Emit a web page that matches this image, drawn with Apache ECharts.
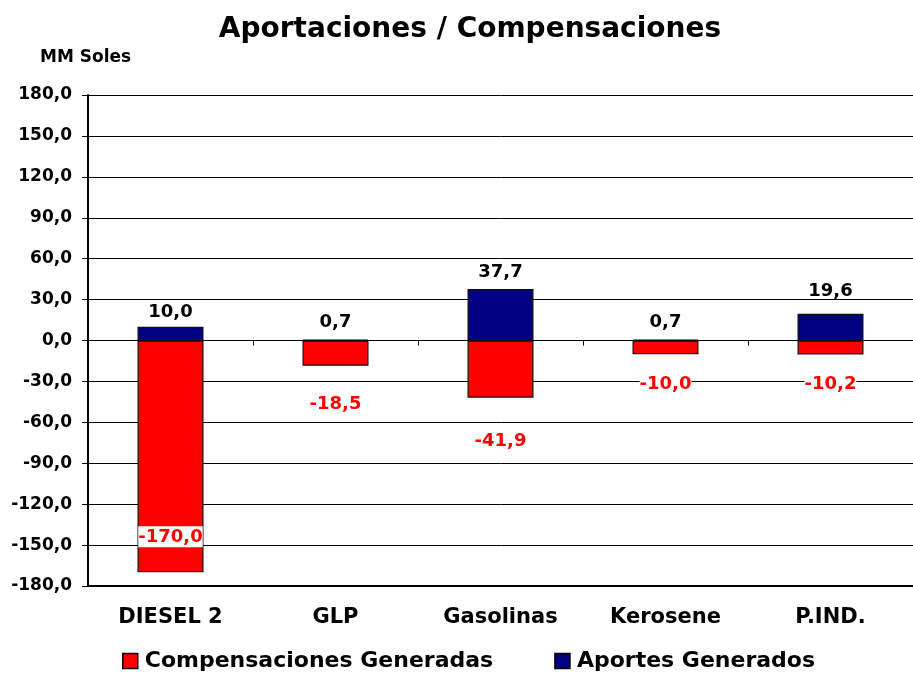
<!DOCTYPE html>
<html><head><meta charset="utf-8">
<script src="https://cdn.jsdelivr.net/npm/echarts@6/dist/echarts.min.js"></script>
<style>html,body{margin:0;padding:0;background:#fff}#c{width:913px;height:675px}</style>
</head><body><div id="c"></div>
<script>
const categories = ['DIESEL 2', 'GLP', 'Gasolinas', 'Kerosene', 'P.IND.'];
const compensaciones = [-170.0, -18.5, -41.9, -10.0, -10.2];
const aportes = [10.0, 0.7, 37.7, 0.7, 19.6];
const yTicks = [-180, -150, -120, -90, -60, -30, 0, 30, 60, 90, 120, 150, 180];

const fmt = v => v.toFixed(1).replace('.', ',');
const FONT = '"DejaVu Sans", "Liberation Sans", sans-serif';

// label placement styling (as in the original, labels were placed individually)
const negLabelStyle = [
  { position: 'insideBottom', distance: 25 },
  { position: 'bottom', distance: 28 },
  { position: 'bottom', distance: 33 },
  { position: 'bottom', distance: 19 },
  { position: 'bottom', distance: 19 }
];
const posLabelDistance = [6, 8, 8, 8, 13];

const chart = echarts.init(document.getElementById('c'));
chart.setOption({
  animation: false,
  backgroundColor: '#fff',
  title: {
    text: 'Aportaciones / Compensaciones', left: 465, top: 11, textAlign: 'center',
    textStyle: { fontFamily: FONT, fontSize: 28, fontWeight: 'bold', color: '#000' }
  },
  graphic: [{
    type: 'text', left: 40, top: 49,
    style: { text: 'MM Soles', font: 'bold 17px ' + FONT, fill: '#000' }
  }],
  legend: {
    top: 645, left: 117, itemGap: 61, itemWidth: 15, itemHeight: 15, icon: 'rect',
    textStyle: { fontFamily: FONT, fontSize: 22, fontWeight: 'bold', color: '#000', padding: [0, 0, 0, 2] },
    data: [
      { name: 'Compensaciones Generadas', itemStyle: { color: '#ff0000', borderColor: '#000', borderWidth: 1.5 } },
      { name: 'Aportes Generados', itemStyle: { color: '#000080', borderColor: '#000', borderWidth: 1.5 } }
    ]
  },
  grid: { left: 88, right: -6, top: 95, bottom: 89 },
  xAxis: [{
    type: 'category', data: categories, position: 'bottom',
    axisLine: { onZero: false, lineStyle: { color: '#000', width: 2 } },
    axisTick: { show: false },
    axisLabel: { margin: 21, fontFamily: FONT, fontSize: 21, fontWeight: 'bold', color: '#000' }
  }, {
    type: 'category', data: categories, position: 'bottom',
    axisLine: { onZero: true, lineStyle: { color: '#000', width: 1 } },
    axisTick: { show: true, length: 5, lineStyle: { color: '#000' } },
    axisLabel: { show: false }
  }],
  yAxis: {
    type: 'value', min: -180, max: 180, interval: 30,
    axisLine: { show: true, lineStyle: { color: '#000', width: 2 } },
    axisTick: { show: true, length: 6, lineStyle: { color: '#000' } },
    axisLabel: { margin: 16, fontFamily: FONT, fontSize: 17, fontWeight: 'bold', color: '#000',
      formatter: v => yTicks.includes(v) ? fmt(v) : '' },
    splitLine: { show: true, lineStyle: { color: '#000', width: 1 } }
  },
  series: [{
    name: 'Compensaciones Generadas', type: 'bar', stack: 's', barWidth: '40%',
    itemStyle: { color: '#ff0000', borderColor: '#111', borderWidth: 1.2 },
    label: {
      show: true, position: 'bottom', distance: 25, formatter: p => fmt(p.value),
      fontFamily: FONT, fontSize: 18, fontWeight: 'bold', color: '#ff0000',
      backgroundColor: '#fff', padding: [2, 0, 1, 0]
    },
    data: compensaciones.map((v, i) => ({ value: v, label: negLabelStyle[i] }))
  }, {
    name: 'Aportes Generados', type: 'bar', stack: 's', barWidth: '40%',
    itemStyle: { color: '#000080', borderColor: '#111', borderWidth: 1.2 },
    label: {
      show: true, position: 'top', distance: 6, formatter: p => fmt(p.value),
      fontFamily: FONT, fontSize: 18, fontWeight: 'bold', color: '#000'
    },
    data: aportes.map((v, i) => ({ value: v, label: { distance: posLabelDistance[i] } }))
  }]
});
</script></body></html>
